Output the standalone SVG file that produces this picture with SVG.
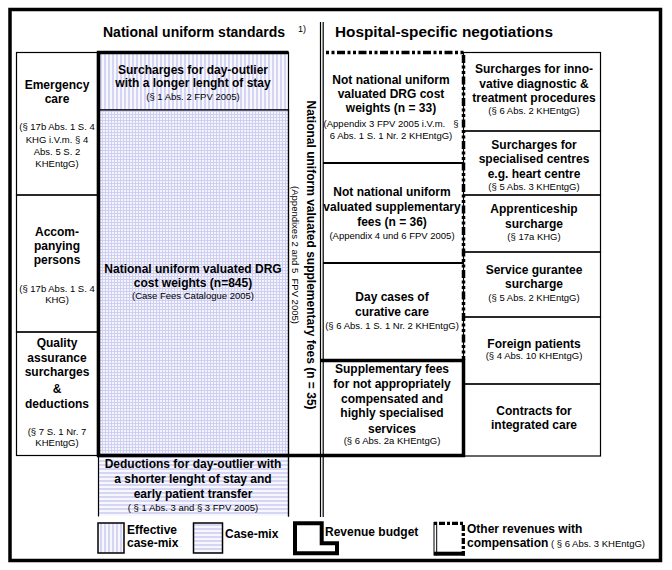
<svg xmlns="http://www.w3.org/2000/svg" width="672" height="570" viewBox="0 0 672 570">
<defs>
<pattern id="pv" width="4" height="4" patternUnits="userSpaceOnUse"><rect width="4" height="4" fill="#f7f7ff"/><rect width="2" height="4" fill="#d6d6f4"/></pattern>
<pattern id="ph" width="4" height="4" patternUnits="userSpaceOnUse"><rect width="4" height="4" fill="#f7f7ff"/><rect width="4" height="2" fill="#d6d6f4"/></pattern>
<pattern id="pg" width="3" height="3" patternUnits="userSpaceOnUse"><rect width="3" height="3" fill="#f4f4ff"/><rect width="1" height="3" fill="#cfcff2"/><rect width="3" height="1" fill="#cfcff2"/></pattern>
</defs>
<style>
text{font-family:"Liberation Sans",Arial,sans-serif;fill:#000}
.b{font-size:12px;font-weight:bold}
.s{font-size:9.5px}
.h{font-size:14px;font-weight:bold}
.m{text-anchor:middle}
.thin{fill:none;stroke:#000;stroke-width:1.2}
.thick{fill:none;stroke:#000;stroke-width:3.5}
.mid{fill:none;stroke:#000;stroke-width:2.2}
.dash{fill:none;stroke:#000;stroke-width:3.5;stroke-dasharray:3 2.5 3 2.5 8 2.5}
</style>
<rect width="672" height="570" fill="#fff"/>

<g id="headers">
<text class="h" x="103" y="37">National uniform standards</text>
<text x="298" y="32" font-size="9">1)</text>
<text class="h" x="335" y="37" textLength="218" lengthAdjust="spacingAndGlyphs">Hospital-specific negotiations</text>
</g>

<!-- left column -->
<g id="n-emergency">
<rect class="thin" x="16.5" y="52.5" width="81" height="142.5"/>
<text class="b m"><tspan x="57" y="89.3">Emergency</tspan><tspan x="57" y="103.3">care</tspan></text>
<text class="s m"><tspan x="57" y="130">(§ 17b Abs. 1 S. 4</tspan><tspan x="57" y="142.7">KHG i.V.m. § 4</tspan><tspan x="57" y="155">Abs. 5 S. 2</tspan><tspan x="57" y="167.3">KHEntgG)</tspan></text>
</g>
<g id="n-accompanying">
<rect class="thin" x="16.5" y="195" width="81" height="137"/>
<text class="b m"><tspan x="57" y="235.5">Accom-</tspan><tspan x="57" y="249.5">panying</tspan><tspan x="57" y="264">persons</tspan></text>
<text class="s m"><tspan x="57" y="292">(§ 17b Abs. 1 S. 4</tspan><tspan x="57" y="302.7">KHG)</tspan></text>
</g>
<g id="n-quality">
<rect class="thin" x="16.5" y="332" width="81" height="123.5"/>
<text class="b m"><tspan x="57" y="347">Quality</tspan><tspan x="57" y="361.7">assurance</tspan><tspan x="57" y="376.3">surcharges</tspan><tspan x="57" y="392.5">&amp;</tspan><tspan x="57" y="408">deductions</tspan></text>
<text class="s m"><tspan x="57" y="435">(§ 7 S. 1 Nr. 7</tspan><tspan x="57" y="446">KHEntgG)</tspan></text>
</g>

<!-- centre column -->
<g id="n-surcharge-long">
<rect x="98.5" y="52.5" width="190" height="57.5" fill="url(#pv)" stroke="#000" stroke-width="1.2"/>
<text class="b m"><tspan x="193" y="74">Surcharges for day-outlier</tspan><tspan x="193" y="86.7">with a longer lenght of stay</tspan></text>
<text class="s m" x="193" y="100">(§ 1 Abs. 2 FPV 2005)</text>
</g>
<g id="n-drg">
<rect x="98.5" y="110" width="190" height="345.5" fill="url(#pg)" stroke="#000" stroke-width="1.2"/>
<text class="b m"><tspan x="193" y="273.3">National uniform valuated DRG</tspan><tspan x="193" y="286.7">cost weights (n=845)</tspan></text>
<text class="s m" x="193" y="299">(Case Fees Catalogue 2005)</text>
</g>
<g id="n-deductions">
<rect x="98.5" y="455.5" width="190" height="60.5" fill="url(#ph)"/>
<path class="thin" d="M98.5,455.5V516.5M288.5,455.5V516.5"/>
<text class="b m"><tspan x="193" y="468.3">Deductions for day-outlier with</tspan><tspan x="193" y="483.3">a shorter lenght of stay and</tspan><tspan x="193" y="498.3">early patient transfer</tspan></text>
<text class="s m" x="193" y="510.7" xml:space="preserve">( § 1 Abs. 3 and § 3 FPV 2005)</text>
</g>
<g id="n-supplementary-fees">
<text class="b m" transform="translate(306.5,255) rotate(90)">National uniform valuated supplementary fees (n = 35)</text>
<text class="s m" transform="translate(292,255) rotate(90)" xml:space="preserve">(Appendixes 2 and 5  FPV 2005)</text>
</g>

<!-- hospital-specific column 1 -->
<g id="n-not-uniform-drg">
<text class="b m"><tspan x="391" y="84">Not national uniform</tspan><tspan x="391" y="98.3">valuated DRG cost</tspan><tspan x="391" y="112.3">weights (n = 33)</tspan></text>
<text class="s m" xml:space="preserve"><tspan x="391" y="126.7">(Appendix 3 FPV 2005 i.V.m.   §</tspan><tspan x="391" y="139">6 Abs. 1 S. 1 Nr. 2 KHEntgG)</tspan></text>
</g>
<g id="n-not-uniform-suppl">
<text class="b m"><tspan x="392" y="195.7">Not national uniform</tspan><tspan x="392" y="210.7">valuated supplementary</tspan><tspan x="392" y="226">fees (n = 36)</tspan></text>
<text class="s m" x="392" y="239">(Appendix 4 und 6 FPV 2005)</text>
</g>
<g id="n-day-cases">
<text class="b m"><tspan x="392" y="300.7">Day cases of</tspan><tspan x="392" y="316">curative care</tspan></text>
<text class="s m" x="392" y="329">(§ 6 Abs. 1 S. 1 Nr. 2 KHEntgG)</text>
</g>
<g id="n-special-services">
<text class="b m"><tspan x="392" y="373.3">Supplementary fees</tspan><tspan x="392" y="387.7">for not appropriately</tspan><tspan x="392" y="402.7">compensated and</tspan><tspan x="392" y="417.3">highly specialised</tspan><tspan x="392" y="433.3">services</tspan></text>
<text class="s m" x="392" y="444.3">(§ 6 Abs. 2a KHEntgG)</text>
</g>

<!-- right column -->
<g id="n-innovative">
<rect class="thin" x="463.5" y="52.5" width="137" height="78.5"/>
<text class="b m"><tspan x="534" y="73.3">Surcharges for inno-</tspan><tspan x="534" y="88">vative diagnostic &amp;</tspan><tspan x="534" y="102.3">treatment procedures</tspan></text>
<text class="s m" x="534" y="114">(§ 6 Abs. 2 KHEntgG)</text>
</g>
<g id="n-centres">
<rect class="thin" x="463.5" y="131" width="137" height="64"/>
<text class="b m"><tspan x="534" y="149">Surcharges for</tspan><tspan x="534" y="162.7">specialised centres</tspan><tspan x="534" y="177.7">e.g. heart centre</tspan></text>
<text class="s m" x="534" y="190">(§ 5 Abs. 3 KHEntgG)</text>
</g>
<g id="n-apprenticeship">
<rect class="thin" x="463.5" y="195" width="137" height="57"/>
<text class="b m"><tspan x="534" y="213.3">Apprenticeship</tspan><tspan x="534" y="227.7">surcharge</tspan></text>
<text class="s m" x="534" y="240">(§ 17a KHG)</text>
</g>
<g id="n-service">
<rect class="thin" x="463.5" y="252" width="137" height="65"/>
<text class="b m"><tspan x="534" y="274">Service gurantee</tspan><tspan x="534" y="288.3">surcharge</tspan></text>
<text class="s m" x="534" y="300.7">(§ 5 Abs. 2 KHEntgG)</text>
</g>
<g id="n-foreign">
<rect class="thin" x="463.5" y="317" width="137" height="67"/>
<text class="b m" x="534" y="347.7">Foreign patients</text>
<text class="s m" x="534" y="359.3">(§ 4 Abs. 10 KHEntgG)</text>
</g>
<g id="n-contracts">
<rect class="thin" x="463.5" y="384" width="137" height="72"/>
<text class="b m"><tspan x="534" y="415">Contracts for</tspan><tspan x="534" y="429.3">integrated care</tspan></text>
</g>

<!-- frame lines -->
<g id="frame">
<rect x="10" y="9.5" width="650.5" height="551" fill="none" stroke="#000" stroke-width="3.5"/>
<path class="thin" d="M320.5,22V517M323.2,22V517" stroke-width="1"/>
<path class="thin" d="M288.5,110V516.5"/>
<path class="thick" d="M96.8,52.5H288.5M98.5,52.5V455.5M96.8,455.5H465.2M463.5,360.5V457.2M321,360.5H465.2"/>
<path class="mid" d="M323,163H463.5M323,263H463.5"/>
<path class="dash" d="M326,52.5H463.5V360"/>
</g>

<!-- legend -->
<g id="legend">
<rect x="98" y="523" width="26" height="30" fill="url(#pv)" stroke="#000" stroke-width="1.5"/>
<text class="b"><tspan x="127" y="533.5">Effective</tspan><tspan x="127" y="547">case-mix</tspan></text>
<rect x="193.5" y="523" width="29" height="30" fill="url(#ph)" stroke="#000" stroke-width="1.5"/>
<text class="b" x="225" y="537.5">Case-mix</text>
<polygon points="295,523.2 321.7,523.2 321.7,543.3 337,543.3 337,553.3 295,553.3" fill="#fff" stroke="#000" stroke-width="4"/>
<text class="b" x="325" y="536">Revenue budget</text>
<path d="M434,522V555.5M436.7,522V555.5" stroke="#000" stroke-width="1"/>
<path d="M434,523.3H463.3V555.5" fill="none" stroke="#000" stroke-width="3.3" stroke-dasharray="3 2 6 2"/>
<path d="M434,553.7H465" stroke="#000" stroke-width="4"/>
<text class="b" x="467" y="532.8">Other revenues with</text>
<text class="b" x="467" y="546.5">compensation<tspan class="s" font-weight="normal" xml:space="preserve"> ( § 6 Abs. 3 KHEntgG)</tspan></text>
</g>
<g id="connectors"/>
</svg>
